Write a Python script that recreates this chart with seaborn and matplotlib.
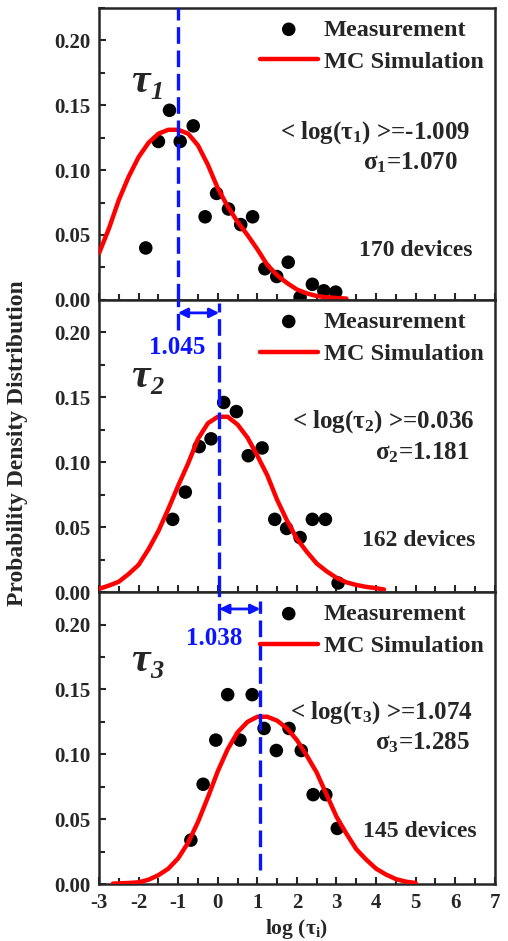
import numpy as np
import pandas as pd
import matplotlib
matplotlib.use('Agg')
import matplotlib.pyplot as plt
import seaborn as sns
from matplotlib.ticker import MultipleLocator, FormatStrFormatter

# measured points (log tau, probability density)
meas1_x = [-1.82, -1.50, -1.22, -0.95, -0.62, -0.32, -0.03, 0.27, 0.58, 0.88, 1.19, 1.49, 1.78, 2.08, 2.39, 2.68, 2.98]
meas1_y = [0.040, 0.122, 0.146, 0.122, 0.134, 0.064, 0.082, 0.070, 0.058, 0.064, 0.024, 0.018, 0.029, 0.002, 0.012, 0.007, 0.006]
meas2_x = [-1.14, -0.82, -0.47, -0.17, 0.15, 0.47, 0.77, 1.12, 1.44, 1.74, 2.08, 2.39, 2.72, 3.04]
meas2_y = [0.056, 0.077, 0.112, 0.118, 0.146, 0.139, 0.105, 0.111, 0.056, 0.049, 0.042, 0.056, 0.056, 0.007]
meas3_x = [-0.68, -0.37, -0.05, 0.25, 0.56, 0.87, 1.17, 1.48, 1.80, 2.11, 2.41, 2.73, 3.02]
meas3_y = [0.034, 0.077, 0.111, 0.146, 0.111, 0.146, 0.120, 0.103, 0.120, 0.103, 0.069, 0.069, 0.043]

# MC simulation curves
mc1_x = [-3.0, -2.75, -2.5, -2.25, -2.0, -1.75, -1.5, -1.25, -1.0, -0.75, -0.5, -0.25, 0.0,
         0.25, 0.5, 0.75, 1.0, 1.25, 1.5, 1.75, 2.0, 2.25, 2.5, 2.75, 3.0, 3.25]
mc1_y = [0.036, 0.055, 0.077, 0.095, 0.110, 0.121, 0.128, 0.131, 0.131, 0.128, 0.119, 0.104, 0.086,
         0.072, 0.060, 0.050, 0.039, 0.027, 0.019, 0.013, 0.008, 0.005, 0.003, 0.002, 0.0015, 0.001]
mc2_x = [-3.0, -2.75, -2.5, -2.25, -2.0, -1.75, -1.5, -1.25, -1.0, -0.75, -0.5, -0.25, 0.0, 0.25, 0.5,
         0.75, 1.0, 1.25, 1.5, 1.75, 2.0, 2.25, 2.5, 2.75, 3.0, 3.25, 3.5, 3.75, 4.0, 4.2]
mc2_y = [0.0025, 0.005, 0.008, 0.014, 0.021, 0.033, 0.047, 0.064, 0.082, 0.099, 0.118, 0.130, 0.135, 0.135, 0.129,
         0.119, 0.105, 0.090, 0.071, 0.055, 0.041, 0.031, 0.022, 0.016, 0.011, 0.0075, 0.0055, 0.004, 0.003, 0.002]
mc3_x = [-2.65, -2.25, -2.0, -1.75, -1.5, -1.25, -1.0, -0.75, -0.5, -0.25, 0.0, 0.25, 0.5, 0.75, 1.0, 1.25,
         1.5, 1.75, 2.0, 2.25, 2.5, 2.75, 3.0, 3.25, 3.5, 3.75, 4.0, 4.25, 4.5, 4.75, 5.0]
mc3_y = [0.0005, 0.001, 0.0015, 0.0035, 0.007, 0.012, 0.020, 0.032, 0.048, 0.067, 0.087, 0.104, 0.117, 0.125, 0.129, 0.129,
         0.126, 0.120, 0.111, 0.099, 0.086, 0.069, 0.052, 0.039, 0.027, 0.019, 0.012, 0.0075, 0.004, 0.002, 0.001]

means = [-1.009, 0.036, 1.074]
sigmas = ['1.070', '1.181', '1.285']
mean_txt = ['-1.009', '0.036', '1.074']
devices = [170, 162, 145]
shifts = ['1.045', '1.038']

sns.set_style('ticks')
plt.rcParams['font.family'] = ['Liberation Serif', 'DejaVu Serif']
plt.rcParams['font.weight'] = 'bold'
plt.rcParams['axes.labelweight'] = 'bold'
plt.rcParams['mathtext.fontset'] = 'custom'
plt.rcParams['mathtext.rm'] = 'Liberation Serif:bold'
plt.rcParams['mathtext.it'] = 'Liberation Serif:italic:bold'
plt.rcParams['mathtext.bf'] = 'Liberation Serif:bold'
plt.rcParams['mathtext.default'] = 'rm'
plt.rcParams['axes.unicode_minus'] = False

fig = plt.figure(figsize=(5.08, 9.41), dpi=100)
h = 0.3105
bottoms = [0.6813, 0.3708, 0.0603]
axes = [fig.add_axes([0.195, b, 0.779, h]) for b in bottoms]

meas = [(meas1_x, meas1_y), (meas2_x, meas2_y), (meas3_x, meas3_y)]
mc = [(mc1_x, mc1_y), (mc2_x, mc2_y), (mc3_x, mc3_y)]
blue = '#0a14ff'

# text placement per panel
tau_base = [0.160, 0.158, 0.164]
mean_pos = [(6.39, 0.129), (6.49, 0.131), (6.44, 0.132)]
sig_pos = [(6.07, 0.106), (6.37, 0.107), (6.37, 0.109)]
dev_pos = [(6.44, 0.038), (6.52, 0.040), (6.55, 0.0405)]

for i, ax in enumerate(axes):
    mx, my = meas[i]
    cx, cy = mc[i]
    sns.scatterplot(x=mx, y=my, ax=ax, color='black', s=95, edgecolor='none',
                    label='Measurement', zorder=2)
    sns.lineplot(x=cx, y=cy, ax=ax, color='red', lw=3.2, label='MC Simulation',
                 estimator=None, sort=False, zorder=3)
    ax.set_xlim(-3, 7)
    ax.set_ylim(0, 0.225)
    ax.xaxis.set_major_locator(MultipleLocator(1))
    ax.xaxis.set_minor_locator(MultipleLocator(0.5))
    ax.yaxis.set_major_locator(MultipleLocator(0.05))
    ax.yaxis.set_minor_locator(MultipleLocator(0.025))
    ax.yaxis.set_major_formatter(FormatStrFormatter('%.2f'))
    ax.tick_params(which='both', direction='in', width=1.5, labelsize=15, top=False, right=False)
    ax.tick_params(which='major', length=5, pad=6)
    ax.tick_params(which='minor', length=4)
    for sp in ax.spines.values():
        sp.set_linewidth(1.8)
        sp.set_visible(True)
    if i < 2:
        ax.tick_params(labelbottom=False)
    ax.set_xlabel('')
    ax.set_ylabel('')

    handles, labels = ax.get_legend_handles_labels()
    ax.legend(handles, labels, loc='upper right', bbox_to_anchor=(1.0, 1.0), frameon=False,
              fontsize=17.5, handlelength=2.4, handletextpad=0.25, labelspacing=0.42,
              borderaxespad=0.05)

    ax.text(-2.19, tau_base[i], 'τ', fontsize=30, style='italic', ha='left', va='baseline')
    ax.annotate(str(i + 1), xy=(-2.19, tau_base[i]), xytext=(14, -5), textcoords='offset points',
                fontsize=19, style='italic', ha='left', va='baseline')
    ax.text(*mean_pos[i], '< log(τ$_%d$) >=%s' % (i + 1, mean_txt[i]), fontsize=18,
            ha='right', va='center')
    ax.text(*sig_pos[i], 'σ$_%d$=%s' % (i + 1, sigmas[i]), fontsize=18,
            ha='right', va='center')
    ax.text(*dev_pos[i], '%d devices' % devices[i], fontsize=17,
            ha='right', va='center')

# dashed lines at the mean positions
dash = dict(color=blue, lw=2.4, dashes=(5, 2), zorder=4)
axes[0].axvline(means[0], ymin=0, ymax=1, **dash)
axes[1].axvline(means[0], ymin=0.897, ymax=1, **dash)
axes[1].axvline(means[1], ymin=0, ymax=0.99, **dash)
axes[2].axvline(means[1], ymin=0.905, ymax=1, **dash)
axes[2].axvline(means[2], ymin=0.05, ymax=0.97, **dash)

arrow = dict(arrowstyle='<|-|>', color=blue, lw=2, mutation_scale=14, shrinkA=0, shrinkB=0)
axes[1].annotate('', xy=(means[1], 0.215), xytext=(means[0], 0.215), arrowprops=arrow)
axes[1].text(-1.02, 0.1885, shifts[0], color=blue, fontsize=18, ha='center', va='center')
axes[2].annotate('', xy=(means[2], 0.212), xytext=(means[1], 0.212), arrowprops=arrow)
axes[2].text(-0.08, 0.189, shifts[1], color=blue, fontsize=18, ha='center', va='center')

axes[2].set_xlabel('log (τ$_i$)', fontsize=15.5, labelpad=3)
fig.text(0.035, 0.529, 'Probability Density Distribution', rotation=90, fontsize=17,
         ha='center', va='center')

fig.savefig('out.png', dpi=100)
